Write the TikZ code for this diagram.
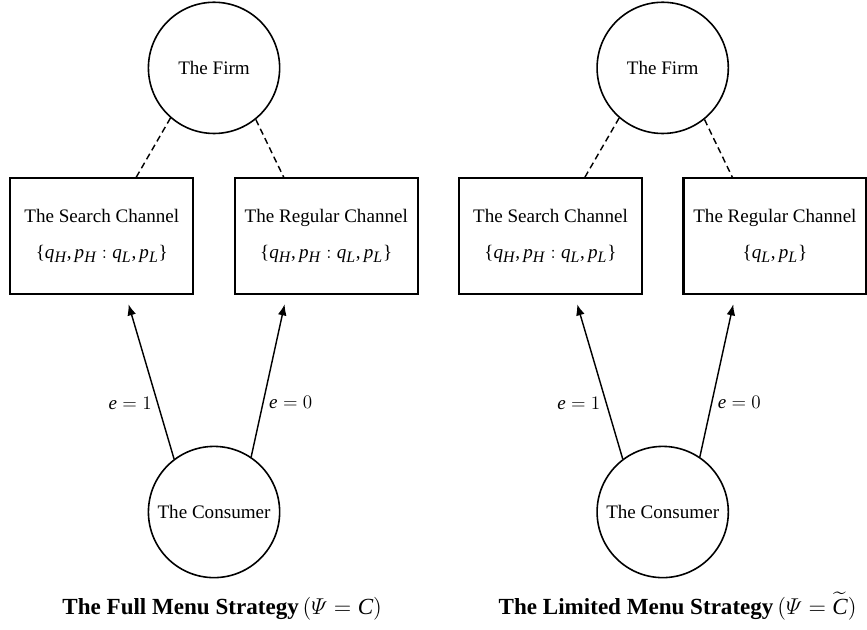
\documentclass[tikz,border=0pt]{standalone}
\usepackage{amsmath}
\usepackage{fontspec}
\setmainfont{Liberation Serif}
\usepackage[italic]{mathastext}
\usepackage{tikz}
\usetikzlibrary{positioning,calc,shapes,arrows,arrows.meta}
\tikzstyle{agent}=[draw,circle,line width=1pt,minimum size=2.9cm,inner sep=0pt,font=\fontsize{12}{14.5}\selectfont]
\tikzstyle{channel}=[draw,line width=1.3pt,minimum width=4.04cm,minimum height=2.56cm,align=center,font=\fontsize{12}{14.5}\selectfont]
\tikzstyle{link}=[dash pattern=on 4pt off 2.5pt,line width=0.9pt]
\tikzstyle{arr}=[-{Latex[length=7pt,width=5.5pt]},line width=0.9pt]
\tikzstyle{effort}=[font=\fontsize{12}{14.5}\selectfont]
\tikzstyle{caption}=[inner sep=0pt,text height=2.6ex,text depth=0.8ex,font=\fontsize{14.5}{16.5}\selectfont]

\begin{document}
\begin{tikzpicture}
      \useasboundingbox (-4.73,1.50) rectangle (14.43,-12.42);
      % full menu strategy
      \node (firmA) [agent] {The Firm};
      \node (searchA) [channel, below=0.95cm of firmA, xshift=-2.48cm] {The Search Channel\\[8pt]$\{q_H, p_H : q_L, p_L\}$};
      \node (regA) [channel, below=0.95cm of firmA, xshift=2.48cm] {The Regular Channel\\[8pt]$\{q_H, p_H : q_L, p_L\}$};
      \node (consA) [agent, below=6.88cm of firmA] {The Consumer};
      \node (capA) [caption, below=0.36cm of consA, xshift=0.18cm] {\textbf{The Full Menu Strategy}\,$(\varPsi = C)$};

      \draw [link] (firmA.229) -- ([xshift=0.76cm]searchA.north);
      \draw [link] (firmA.309) -- ([xshift=-0.94cm]regA.north);
      \draw [arr] (consA.127) -- node[effort, pos=0.36, left] {$e = 1$} ([shift={(0.59,-0.2)}]searchA.south);
      \draw [arr] (consA.56) -- node[effort, pos=0.36, right] {$e = 0$} ([shift={(-0.92,-0.2)}]regA.south);

      % limited menu strategy
      \node (firmB) [agent, right=6.98cm of firmA] {The Firm};
      \node (searchB) [channel, below=0.95cm of firmB, xshift=-2.48cm] {The Search Channel\\[8pt]$\{q_H, p_H : q_L, p_L\}$};
      \node (regB) [channel, below=0.95cm of firmB, xshift=2.48cm] {The Regular Channel\\[8pt]$\{q_L, p_L\}$};
      \node (consB) [agent, below=6.88cm of firmB] {The Consumer};
      \node (capB) [caption, below=0.36cm of consB, xshift=0.33cm] {\textbf{The Limited Menu Strategy}\,$(\varPsi = \widetilde{C})$};

      \draw [link] (firmB.229) -- ([xshift=0.76cm]searchB.north);
      \draw [link] (firmB.309) -- ([xshift=-0.94cm]regB.north);
      \draw [arr] (consB.127) -- node[effort, pos=0.36, left] {$e = 1$} ([shift={(0.59,-0.2)}]searchB.south);
      \draw [arr] (consB.56) -- node[effort, pos=0.36, right] {$e = 0$} ([shift={(-0.92,-0.2)}]regB.south);
\end{tikzpicture}
\end{document}
